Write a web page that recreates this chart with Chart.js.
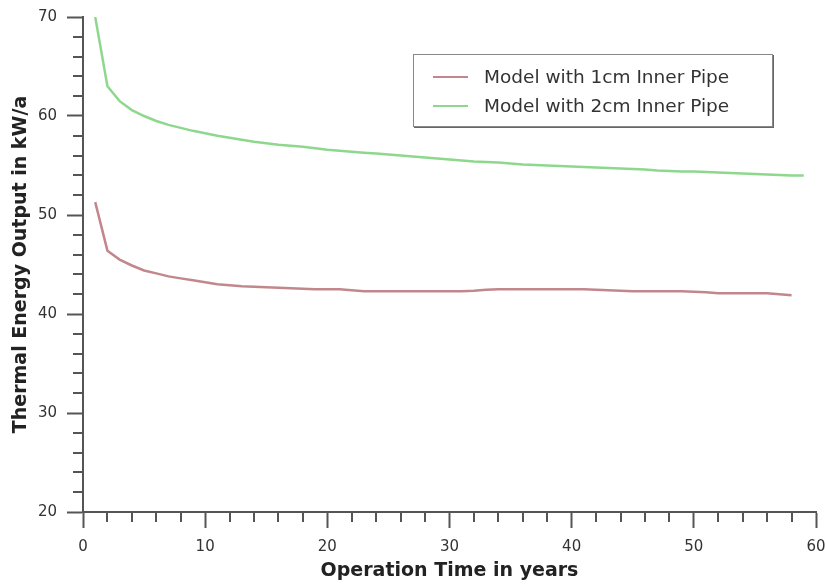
<!DOCTYPE html>
<html>
<head>
<meta charset="utf-8">
<script src="https://cdn.jsdelivr.net/npm/chart.js@4/dist/chart.umd.min.js"></script>
<style>
  html, body { margin: 0; padding: 0; background: #fff; }
  #wrap { position: relative; width: 826px; height: 585px; }
  #legend {
    position: absolute; left: 413px; top: 54px; width: 358px; height: 71px;
    border: 1px solid #888; box-shadow: 1px 1px 0 #666;
    background: #fff; font: 18.5px "DejaVu Sans", sans-serif; color: #333;
  }
  .lg-row { position: absolute; left: 0; height: 22px; line-height: 22px; white-space: nowrap; }
  .lg-line { position: absolute; left: 19px; top: 10px; width: 35px; height: 2px; }
  .lg-text { position: absolute; left: 70px; top: 0; }
</style>
</head>
<body>
<div id="wrap">
  <canvas id="chart" width="826" height="585"></canvas>
  <div id="legend"></div>
</div>
<script>
'use strict';

// ── Data ───────────────────────────────────────────────────────
const yearsRed = [
  1, 2, 3, 4, 5, 6, 7, 8, 9, 10, 11, 12, 13, 14, 15, 16, 17, 18, 19, 20,
  21, 22, 23, 24, 25, 26, 27, 28, 29, 30, 31, 32, 33, 34, 35, 36, 37, 38, 39, 40,
  41, 42, 43, 44, 45, 46, 47, 48, 49, 50, 51, 52, 53, 54, 55, 56, 57, 58,
];
const pipe1cm = [
  51.3, 46.4, 45.5, 44.9, 44.4, 44.1, 43.8, 43.6, 43.4, 43.2,
  43.0, 42.9, 42.8, 42.75, 42.7, 42.65, 42.6, 42.55, 42.5, 42.5,
  42.5, 42.4, 42.3, 42.3, 42.3, 42.3, 42.3, 42.3, 42.3, 42.3,
  42.3, 42.35, 42.45, 42.5, 42.5, 42.5, 42.5, 42.5, 42.5, 42.5,
  42.5, 42.45, 42.4, 42.35, 42.3, 42.3, 42.3, 42.3, 42.3, 42.25,
  42.2, 42.1, 42.1, 42.1, 42.1, 42.1, 42.0, 41.9,
];

const yearsGreen = [
  1, 2, 3, 4, 5, 6, 7, 8, 9, 10, 11, 12, 13, 14, 15, 16, 17, 18, 19, 20,
  21, 22, 23, 24, 25, 26, 27, 28, 29, 30, 31, 32, 33, 34, 35, 36, 37, 38, 39, 40,
  41, 42, 43, 44, 45, 46, 47, 48, 49, 50, 51, 52, 53, 54, 55, 56, 57, 58, 59,
];
const pipe2cm = [
  70.0, 63.0, 61.5, 60.6, 60.0, 59.5, 59.1, 58.8, 58.5, 58.25,
  58.0, 57.8, 57.6, 57.4, 57.25, 57.1, 57.0, 56.9, 56.75, 56.6,
  56.5, 56.4, 56.3, 56.2, 56.1, 56.0, 55.9, 55.8, 55.7, 55.6,
  55.5, 55.4, 55.35, 55.3, 55.2, 55.1, 55.05, 55.0, 54.95, 54.9,
  54.85, 54.8, 54.75, 54.7, 54.65, 54.6, 54.5, 54.45, 54.4, 54.4,
  54.35, 54.3, 54.25, 54.2, 54.15, 54.1, 54.05, 54.0, 54.0,
];

const seriesLabels = ['Model with 1cm Inner Pipe', 'Model with 2cm Inner Pipe'];
const seriesColors = ['#c2878c', '#8ed88e'];

const xTitle = 'Operation Time in years';
const yTitle = 'Thermal Energy Output in kW/a';

// ── Helpers ────────────────────────────────────────────────────
const AXIS_COLOR = '#555';
const FONT = '"DejaVu Sans", sans-serif';

const toPoints = (xs, ys) => xs.map((x, i) => ({ x, y: ys[i] }));

// minor ticks are shorter than the major ones: draw those ourselves
const minorTicks = {
  id: 'minorTicks',
  afterDraw(chart) {
    const { ctx, scales: { x, y } } = chart;
    ctx.save();
    ctx.strokeStyle = AXIS_COLOR;
    ctx.lineWidth = 2;
    x.ticks.forEach(t => {
      if (t.value % 10 === 0) return;
      const px = Math.round(x.getPixelForValue(t.value));
      ctx.beginPath();
      ctx.moveTo(px, x.top);
      ctx.lineTo(px, x.top + 10);
      ctx.stroke();
    });
    y.ticks.forEach(t => {
      if (t.value % 10 === 0) return;
      const py = Math.round(y.getPixelForValue(t.value));
      ctx.beginPath();
      ctx.moveTo(y.right, py);
      ctx.lineTo(y.right - 10, py);
      ctx.stroke();
    });
    ctx.restore();
  },
};

const majorOnly = ctx => (ctx.tick && ctx.tick.value % 10 === 0) ? AXIS_COLOR : 'rgba(0,0,0,0)';

// ── Chart ──────────────────────────────────────────────────────
const chart = new Chart(document.getElementById('chart'), {
  type: 'line',
  data: {
    datasets: [
      {
        label: seriesLabels[0],
        data: toPoints(yearsRed, pipe1cm),
        borderColor: seriesColors[0],
        borderWidth: 2.5,
        pointRadius: 0,
        tension: 0,
      },
      {
        label: seriesLabels[1],
        data: toPoints(yearsGreen, pipe2cm),
        borderColor: seriesColors[1],
        borderWidth: 2.5,
        pointRadius: 0,
        tension: 0,
      },
    ],
  },
  options: {
    responsive: false,
    animation: false,
    layout: { padding: { left: 0, right: 10, top: 17, bottom: 0 } },
    plugins: { legend: { display: false }, tooltip: { enabled: false } },
    scales: {
      x: {
        type: 'linear', min: 0, max: 60,
        afterFit: s => { s.height = 73; s.paddingLeft = 0; s.paddingRight = 0; },
        border: { color: AXIS_COLOR, width: 2 },
        grid: { drawOnChartArea: false, tickLength: 16, tickWidth: 2, tickColor: majorOnly },
        ticks: {
          stepSize: 2, autoSkip: false, maxRotation: 0, padding: 10,
          color: '#333', font: { family: FONT, size: 15 },
          callback: v => (v % 10 === 0 ? v : ''),
        },
        title: {
          display: true, text: xTitle, color: '#222',
          font: { family: FONT, size: 19, weight: 'bold' },
          padding: { top: 0, bottom: 3 },
        },
      },
      y: {
        min: 20, max: 70,
        afterFit: s => { s.width = 83; s.paddingTop = 0; s.paddingBottom = 0; },
        border: { color: AXIS_COLOR, width: 2 },
        grid: { drawOnChartArea: false, tickLength: 16, tickWidth: 2, tickColor: majorOnly },
        ticks: {
          stepSize: 2, autoSkip: false, padding: 10,
          color: '#333', font: { family: FONT, size: 15 },
          callback: v => (v % 10 === 0 ? v : ''),
        },
        title: {
          display: true, text: yTitle, color: '#222',
          font: { family: FONT, size: 19, weight: 'bold' },
          padding: { top: 10, bottom: 0 },
        },
      },
    },
  },
  plugins: [minorTicks],
});

// ── Legend ─────────────────────────────────────────────────────
document.getElementById('legend').innerHTML = chart.data.datasets.map((ds, i) => `
  <div class="lg-row" style="top:${11 + i * 29}px">
    <span class="lg-line" style="background:${ds.borderColor}"></span>
    <span class="lg-text">${ds.label}</span>
  </div>`).join('');
</script>
</body>
</html>
